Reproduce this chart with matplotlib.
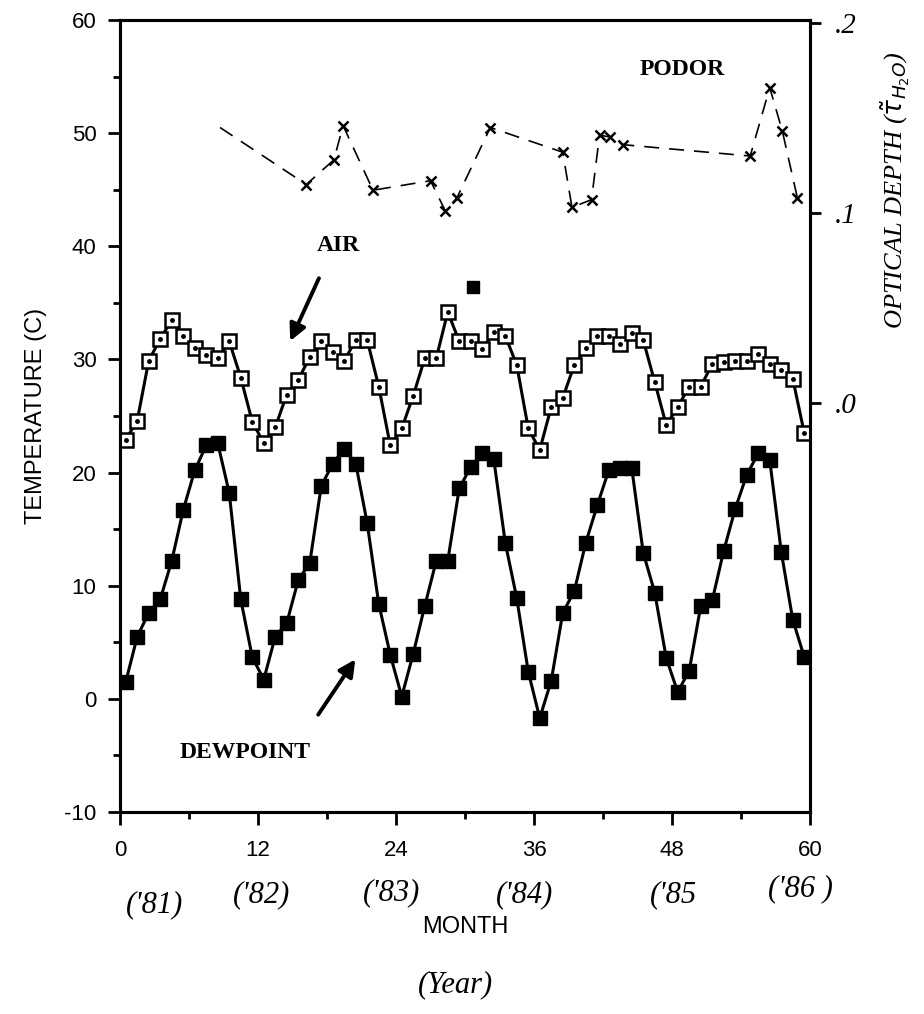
import numpy as np
import matplotlib.pyplot as plt

plt.rcParams['axes.unicode_minus'] = False
plt.rcParams['font.family'] = ['Liberation Sans', 'DejaVu Sans']

# monthly values, Jan 1981 .. Dec 1985 (month index 0..59)
air_temp = [22.9, 24.6, 29.9, 31.8, 33.5, 32.1, 31.0, 30.4, 30.1, 31.6,
            28.4, 24.5, 22.6, 24.0, 26.9, 28.2, 30.2, 31.6, 30.7, 29.9,
            31.7, 31.7, 27.6, 22.4, 23.9, 26.8, 30.1, 30.1, 34.2, 31.6,
            31.6, 30.9, 32.4, 32.1, 29.5, 23.9, 22.0, 25.8, 26.6, 29.5,
            31.0, 32.1, 32.1, 31.4, 32.3, 31.7, 28.0, 24.2, 25.8, 27.6,
            27.6, 29.6, 29.8, 29.9, 29.9, 30.5, 29.6, 29.1, 28.3, 23.5]
dewpoint = [1.5, 5.5, 7.6, 8.8, 12.2, 16.7, 20.2, 22.4, 22.6, 18.2,
            8.8, 3.7, 1.7, 5.5, 6.7, 10.5, 12.0, 18.8, 20.8, 22.1,
            20.8, 15.5, 8.4, 3.9, 0.2, 4.0, 8.2, 12.2, 12.2, 18.6,
            20.5, 21.7, 21.2, 13.8, 8.9, 2.4, -1.7, 1.6, 7.6, 9.5,
            13.8, 17.1, 20.2, 20.4, 20.4, 12.9, 9.4, 3.6, 0.6, 2.5,
            8.2, 8.7, 13.1, 16.8, 19.8, 21.7, 21.1, 13.0, 7.0, 3.7]
month = np.arange(len(air_temp)) + 0.5

# stray dewpoint square above the air curve
stray_month = [30.7]
stray_temp = [36.4]

# Podor water vapour optical depth (right axis)
podor_month = [8.7, 16.2, 18.6, 19.4, 22.0, 27.0, 28.3, 29.3, 32.2, 38.5,
               39.3, 41.0, 41.7, 42.6, 43.7, 54.8, 56.5, 57.6, 58.9]
podor_tau = [0.145, 0.115, 0.128, 0.146, 0.112, 0.117, 0.101, 0.108, 0.145, 0.132,
             0.103, 0.107, 0.141, 0.140, 0.136, 0.130, 0.166, 0.143, 0.108]

xticks = [0, 12, 24, 36, 48, 60]
year_labels = ["('81)", "('82)", "('83)", "('84)", "('85", "('86 )"]
year_pos = [(155, 905), (262, 895), (392, 893), (525, 895), (673, 895), (800, 889)]

fig = plt.figure(figsize=(9.24, 10.14), dpi=100)
ax = fig.add_axes([120 / 924, 1 - 812 / 1014, 690 / 924, 792 / 1014])

# dewpoint: filled squares
ax.plot(month, dewpoint, color='black', lw=2.2, marker='s', ms=9.5,
        mfc='black', mec='black', zorder=3)
ax.plot(stray_month, stray_temp, ls='none', marker='s', ms=9, color='black')

# air: open squares with a dot in the middle
ax.plot(month, air_temp, color='black', lw=2.2, marker='s', ms=9.5,
        mfc='white', mec='black', mew=1.8, zorder=3)
ax.plot(month, air_temp, ls='none', marker='o', ms=2.5, color='black', zorder=4)

ax.set_xlim(0, 60)
ax.set_ylim(-10, 60)
ax.set_xticks(xticks)
ax.set_xticks(np.arange(6, 60, 12), minor=True)
ax.set_yticks(np.arange(-10, 61, 10))
ax.set_yticks(np.arange(-5, 60, 10), minor=True)
ax.tick_params(axis='both', which='major', direction='out', length=9, width=2,
               labelsize=16)
ax.tick_params(axis='x', which='major', pad=11)
ax.tick_params(axis='y', which='major', pad=8)
ax.tick_params(axis='both', which='minor', direction='out', length=5, width=2)
ax.tick_params(right=False, top=False)
for s in ax.spines.values():
    s.set_linewidth(2.2)

ax.set_ylabel('TEMPERATURE (C)', fontsize=17, labelpad=12)
ax.set_xlabel('MONTH', fontsize=17, labelpad=40)

serif = dict(family='Liberation Serif', fontweight='bold', fontsize=17)
ax.text(19.0, 40.1, 'AIR', ha='center', va='center', **serif)
ax.text(10.9, -4.7, 'DEWPOINT', ha='center', va='center', **serif)
ax.text(48.9, 55.6, 'PODOR', ha='center', va='center', **serif)

arrow = dict(arrowstyle='-|>,head_length=1.0,head_width=0.5', lw=2.8, color='black')
ax.annotate('', xy=(14.7, 31.4), xytext=(17.4, 37.4), arrowprops=arrow)
ax.annotate('', xy=(20.6, 3.7), xytext=(17.1, -1.6), arrowprops=arrow)

# right axis: optical depth
ax2 = ax.twinx()
ax2.set_ylim(-0.2153, 0.2016)
ax2.plot(podor_month, podor_tau, color='black', lw=1.2, ls=(0, (9, 6)),
         marker='x', ms=7, mew=1.8, markevery=list(range(1, len(podor_month))))
ax2.set_yticks([0.0, 0.1, 0.2])
ax2.set_yticklabels(['.0', '.1', '.2'], fontsize=21, style='italic',
                    family='Liberation Serif')
ax2.tick_params(axis='y', direction='out', length=8, width=2, pad=10)
for s in ax2.spines.values():
    s.set_linewidth(2.2)
ax2.set_ylabel(r'OPTICAL DEPTH ($\tilde{\tau}_{H_2O}$)', fontsize=19,
               style='italic', family='Liberation Serif')
ax2.yaxis.set_label_coords(1.098, 0.785)

hand = dict(fontsize=22, style='italic', family='Liberation Serif',
            ha='center', va='center')
for lab, (px, py) in zip(year_labels, year_pos):
    fig.text(px / 924, 1 - py / 1014, lab, **hand)
fig.text(455 / 924, 1 - 985 / 1014, '(Year)', **hand)

fig.savefig('out.png', dpi=100)
